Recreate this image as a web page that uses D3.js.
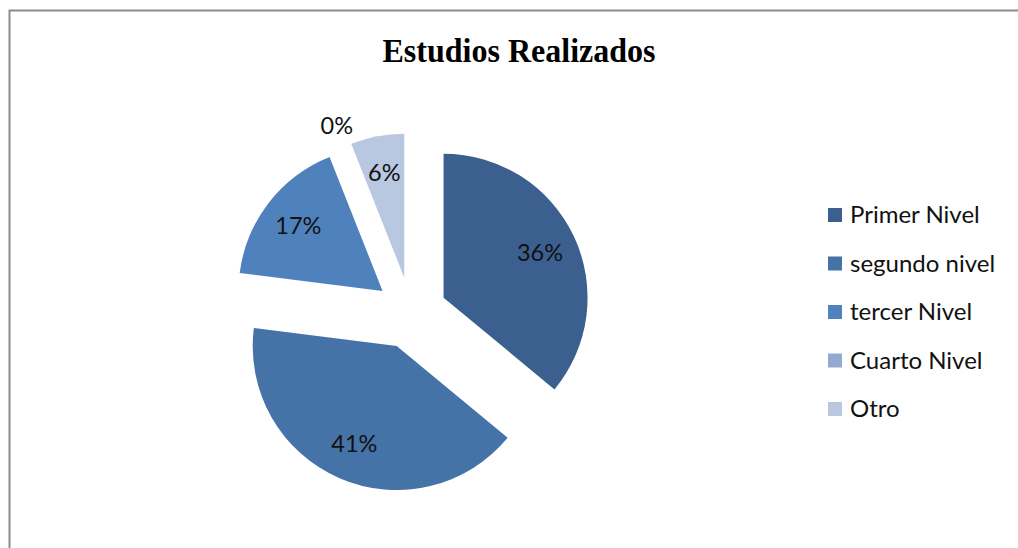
<!DOCTYPE html>
<html>
<head>
<meta charset="utf-8">
<script src="https://cdn.jsdelivr.net/npm/d3@7"></script>
<style>
  html, body { margin: 0; padding: 0; background: #fff; }
</style>
</head>
<body>
<svg id="chart" width="1018" height="548"></svg>
<script>
// data
const categories = ["Primer Nivel", "segundo nivel", "tercer Nivel", "Cuarto Nivel", "Otro"];
const values = [36, 41, 17, 0, 6];
const colors = ["#3b5f8f", "#4573a8", "#4f81bd", "#93a9cf", "#b9c7e1"];
const title = "Estudios Realizados";

const svg = d3.select("#chart");
const width = +svg.attr("width");
const height = +svg.attr("height");

// chart frame (only top and left edges show in the shot)
svg.append("path")
    .attr("d", `M9.5,${height} V10.5 H${width}`)
    .attr("fill", "none")
    .attr("stroke", "#8c8c8c")
    .attr("stroke-width", 2);

svg.append("text")
    .attr("x", 519)
    .attr("y", 62)
    .attr("text-anchor", "middle")
    .attr("font-family", "Liberation Serif, serif")
    .attr("font-weight", "bold")
    .attr("font-size", 34)
    .attr("textLength", 273)
    .attr("lengthAdjust", "spacingAndGlyphs")
    .text(title);

// pie, exploded by a quarter of the radius
const cx = 411, cy = 313, r = 144, explode = 36;

const pie = d3.pie().sort(null).value(d => d);
const arcs = pie(values);
const arc = d3.arc().innerRadius(0).outerRadius(r);

const g = svg.append("g").attr("transform", `translate(${cx},${cy})`);

const offset = d => {
    const a = (d.startAngle + d.endAngle) / 2;
    return [Math.sin(a) * explode, -Math.cos(a) * explode];
};

g.selectAll("path.slice")
    .data(arcs)
    .join("path")
    .attr("class", "slice")
    .attr("d", arc)
    .attr("fill", (d, i) => colors[i])
    .attr("transform", d => `translate(${offset(d)})`);

// data labels
g.selectAll("text.lbl")
    .data(arcs)
    .join("text")
    .attr("class", "lbl")
    .attr("transform", d => {
        const a = (d.startAngle + d.endAngle) / 2;
        const o = offset(d);
        const lr = d.value === 0 ? r * 1.15 : r * 0.74;
        return `translate(${o[0] + Math.sin(a) * lr},${o[1] - Math.cos(a) * lr})`;
    })
    .attr("text-anchor", "middle")
    .attr("dy", "0.35em")
    .attr("font-family", "Lato, sans-serif")
    .attr("font-size", 23.5)
    .attr("fill", "#111")
    .text(d => d.value + "%");

// legend
const legendY = d3.scalePoint().domain(categories).range([215, 409]);

const legend = svg.append("g");
const item = legend.selectAll("g")
    .data(categories)
    .join("g")
    .attr("transform", d => `translate(828,${legendY(d)})`);

item.append("rect")
    .attr("x", 0)
    .attr("y", -7)
    .attr("width", 14)
    .attr("height", 14)
    .attr("fill", (d, i) => colors[i]);

item.append("text")
    .attr("x", 22)
    .attr("dy", "0.35em")
    .attr("font-family", "Lato, sans-serif")
    .attr("font-size", 24)
    .attr("fill", "#111")
    .text(d => d);
</script>
</body>
</html>
